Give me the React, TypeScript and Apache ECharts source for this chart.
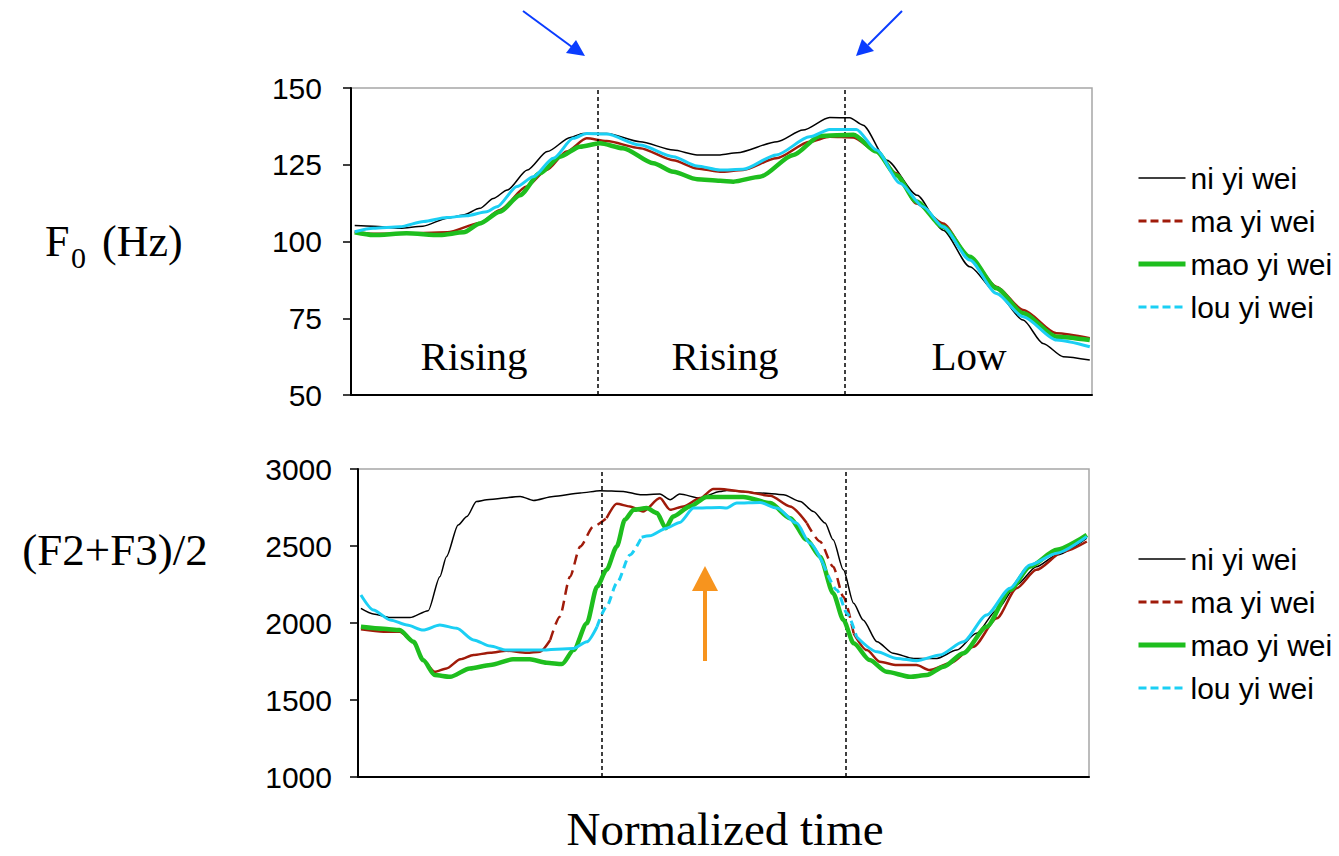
import { useEffect, useRef } from 'react';
import * as echarts from 'echarts';

// ---------- data (x = normalized time, 0..100) ----------
const seriesNames = ['ni yi wei', 'ma yi wei', 'mao yi wei', 'lou yi wei'];
const segmentBounds = [33.33, 66.67];
const segmentLabels = ['Rising', 'Rising', 'Low'];

const f0Axis = { min: 50, max: 150, interval: 25 };
const fAxis = { min: 1000, max: 3000, interval: 500 };

const niF0 = [
  [0.5, 105.2], [3.0, 105], [6.6, 104.3], [9.7, 105], [13.0, 107.6], [15.1, 108.6], [17.4, 110.8],
  [19.2, 114], [21.1, 116.8], [23.8, 123.3], [26.5, 129.3], [29.6, 133.9], [31.3, 135.2], [34.5, 135.2],
  [39.0, 132.5], [43.5, 129.8], [46.7, 128.2], [49.8, 128.2], [52.1, 128.9], [57.5, 132.5], [61.0, 136.3],
  [64.6, 140.4], [67.3, 140.3], [69.1, 137.9], [72.3, 126.5], [76.4, 115.1], [79.9, 103.7], [83.5, 91.8],
  [87.2, 83.1], [90.7, 74.4], [93.4, 66.8], [96.1, 62.5], [99.7, 61.4],
];
const maF0 = [
  [0.5, 103.2], [3.0, 102.5], [6.6, 102.5], [13.0, 103], [17.4, 106], [20.1, 110.3], [23.7, 117.9],
  [26.4, 123.3], [29.1, 129.3], [31.8, 133.6], [34.5, 132.7], [39.0, 130.4], [43.5, 126.5], [46.7, 123.8],
  [49.8, 122.7], [52.9, 123.3], [57.4, 127.1], [61.9, 132.5], [64.6, 134.1], [67.8, 133.9], [70.9, 129.3],
  [73.6, 122.2], [76.3, 112.4], [79.9, 105.9], [83.5, 95], [87.1, 85.3], [90.7, 77.7], [95.2, 70.1], [99.7, 68.5],
];
const maoF0 = [
  [0.5, 103], [3.0, 102.1], [7.5, 102.7], [12.0, 102.1], [15.2, 103], [17.4, 105.9], [20.1, 109.7],
  [22.8, 115.1], [25.5, 122.2], [28.2, 127.6], [30.9, 130.9], [33.6, 132], [36.7, 130.4], [40.8, 125.5],
  [43.5, 122.7], [46.7, 120.3], [49.8, 119.8], [51.6, 119.5], [55.2, 121.1], [59.7, 128.2], [63.3, 134.4],
  [67.8, 134.8], [70.9, 129.3], [73.6, 121.6], [76.3, 113], [79.9, 104.8], [83.5, 95], [87.1, 84.8],
  [90.7, 76.6], [95.2, 69], [99.7, 67.9],
];
const louF0 = [
  [0.5, 103.2], [3.0, 104.3], [6.6, 104.8], [9.8, 106.5], [12.9, 107.8], [15.6, 108.4], [18.3, 109.7],
  [19.7, 111.3], [22.4, 117.9], [24.6, 121.1], [27.3, 127.1], [30.0, 133.6], [31.8, 135.2], [34.5, 135],
  [39.0, 131.4], [43.5, 127.6], [46.7, 124.6], [49.8, 123.3], [52.9, 123.5], [57.4, 128.2], [61.9, 134.1],
  [64.6, 136.5], [68.2, 136.5], [70.9, 129.8], [74.1, 119], [77.2, 111.3], [79.9, 104.8], [83.5, 94],
  [87.1, 83.1], [90.7, 75.5], [95.2, 67.9], [99.7, 65.7],
];

const niF23 = [
  [0.4, 2095], [2.1, 2059], [4.4, 2035], [7.1, 2035], [9.6, 2080], [11.2, 2301], [12.1, 2431], [13.7, 2637],
  [14.9, 2692], [16.2, 2789], [17.6, 2800], [22.2, 2822], [24.0, 2796], [26.7, 2822], [30.4, 2844],
  [33.1, 2859], [36.3, 2854], [38.6, 2833], [41.3, 2837], [42.7, 2800], [44.0, 2837], [46.8, 2811],
  [49.5, 2854], [50.4, 2861], [55.0, 2844], [58.2, 2833], [60.5, 2789], [62.3, 2724], [63.9, 2649],
  [65.0, 2540], [66.4, 2345], [67.8, 2128], [69.1, 2020], [71.0, 1878], [73.2, 1803], [76.0, 1770],
  [79.2, 1770], [81.9, 1824], [84.6, 1933], [87.4, 2085], [90.1, 2247], [92.8, 2366], [95.6, 2442], [99.7, 2551],
];
const maF23 = [
  [0.4, 1959], [3.5, 1943], [5.7, 1943], [7.6, 1878], [8.9, 1759], [10.5, 1683], [12.1, 1705], [14.0, 1764],
  [15.8, 1792], [18.1, 1807], [20.3, 1820], [23.1, 1807], [24.9, 1814], [26.3, 1890], [27.6, 2041],
  [29.0, 2301], [30.4, 2497], [32.2, 2627], [34.0, 2681], [35.4, 2774], [37.2, 2757], [39.0, 2724],
  [41.3, 2811], [42.7, 2735], [44.5, 2757], [46.8, 2811], [48.6, 2870], [49.5, 2870], [52.7, 2854],
  [56.4, 2826], [59.1, 2757], [61.4, 2649], [63.2, 2529], [65.0, 2366], [66.4, 2171], [67.8, 1933],
  [69.6, 1824], [71.4, 1748], [73.7, 1727], [76.4, 1727], [78.2, 1694], [81.0, 1738], [84.2, 1846],
  [87.4, 2031], [90.1, 2226], [92.8, 2345], [96.5, 2464], [99.7, 2529],
];
const maoF23 = [
  [0.4, 1976], [3.5, 1963], [5.7, 1954], [7.6, 1878], [8.9, 1759], [10.5, 1662], [12.6, 1651], [15.3, 1705],
  [18.1, 1727], [21.2, 1764], [23.5, 1764], [25.8, 1742], [27.9, 1733], [29.5, 1824], [31.3, 1998],
  [32.7, 2236], [34.0, 2345], [35.4, 2497], [36.5, 2670], [37.7, 2735], [39.5, 2746], [40.9, 2714],
  [42.1, 2616], [43.1, 2692], [45.4, 2757], [47.7, 2818], [52.7, 2818], [56.4, 2779], [59.1, 2681],
  [61.4, 2540], [63.2, 2431], [65.0, 2193], [66.4, 2020], [67.8, 1868], [70.0, 1759], [72.3, 1683],
  [75.5, 1651], [77.8, 1662], [80.1, 1716], [82.8, 1803], [86.0, 1976], [89.2, 2215], [91.9, 2366],
  [95.6, 2475], [99.7, 2573],
];
const louF23 = [
  [0.4, 2182], [2.1, 2085], [4.4, 2020], [6.7, 1987], [8.9, 1954], [11.2, 1987], [13.5, 1966], [15.8, 1890],
  [18.1, 1850], [20.3, 1824], [24.9, 1824], [29.5, 1835], [31.3, 1878], [32.7, 1976], [34.0, 2106],
  [35.4, 2258], [37.2, 2442], [38.8, 2557], [39.9, 2566], [42.2, 2616], [44.0, 2653], [45.9, 2746],
  [49.5, 2750], [50.4, 2746], [51.8, 2779], [55.0, 2783], [57.3, 2746], [60.0, 2649], [61.8, 2519],
  [63.6, 2388], [65.5, 2215], [66.9, 2063], [68.2, 1911], [71.0, 1813], [73.7, 1770], [76.4, 1755],
  [79.6, 1792], [82.8, 1878], [86.0, 2052], [89.2, 2226], [91.9, 2377], [95.6, 2453], [99.7, 2562],
];
// x-ranges where the formant curves are drawn dashed
const maDashedRanges = [[26, 32.5], [61, 67.5]];
const louDashedRanges = [[32.5, 38.5], [63, 68]];

// ---------- styles ----------
const colors = ['#000000', '#A01B0A', '#1EBE1E', '#1BCFF4'];
const widths = [1.5, 2.5, 4.5, 3];
const legendWidths = [1.5, 3, 5, 3];
const legendDash = [false, true, false, true];
const SANS = 'Liberation Sans, Arial, sans-serif';
const SERIF = 'Liberation Serif, Times New Roman, serif';

function splitByRanges(data: number[][], ranges: number[][]) {
  const segs: { dashed: boolean; data: number[][] }[] = [];
  let cur: number[][] = [];
  let curDashed: boolean | null = null;
  data.forEach((p) => {
    const d = ranges.some(([a, b]) => p[0] >= a && p[0] < b);
    if (curDashed === null) {
      curDashed = d;
      cur.push(p);
      return;
    }
    if (d !== curDashed) {
      cur.push(p);
      segs.push({ dashed: curDashed, data: cur });
      cur = [p];
      curDashed = d;
    } else cur.push(p);
  });
  segs.push({ dashed: !!curDashed, data: cur });
  return segs;
}

function lineSeries(i: number, grid: number, data: number[][], dashed: boolean, dash: number[]) {
  return {
    type: 'line',
    name: seriesNames[i],
    xAxisIndex: grid,
    yAxisIndex: grid,
    data,
    symbol: 'none',
    showSymbol: false,
    smooth: 0.25,
    smoothMonotone: 'x',
    lineStyle: { color: colors[i], width: widths[i], type: dashed ? dash : 'solid' },
    itemStyle: { color: colors[i] },
    z: 3 + i,
  };
}

function buildOption() {
  const divider = (grid: number) => ({
    type: 'line',
    name: 'divider' + grid,
    xAxisIndex: grid,
    yAxisIndex: grid,
    data: [],
    markLine: {
      silent: true,
      symbol: ['none', 'none'],
      label: { show: false },
      lineStyle: { color: '#000', width: 1.5, type: [4, 3] },
      data: segmentBounds.map((b) => ({ xAxis: b })),
    },
    z: 2,
  });

  const series: any[] = [divider(0), divider(1)];
  [niF0, maF0, maoF0, louF0].forEach((d, i) => series.push(lineSeries(i, 0, d, false, [])));
  series.push(lineSeries(0, 1, niF23, false, []));
  splitByRanges(maF23, maDashedRanges).forEach((s) => series.push(lineSeries(1, 1, s.data, s.dashed, [10, 6])));
  series.push(lineSeries(2, 1, maoF23, false, []));
  splitByRanges(louF23, louDashedRanges).forEach((s) => series.push(lineSeries(3, 1, s.data, s.dashed, [8, 5])));

  const legendData = seriesNames.map((n, i) => ({
    name: n,
    itemStyle: { color: 'rgba(0,0,0,0)', borderColor: 'rgba(0,0,0,0)', borderWidth: 0 },
    lineStyle: { color: colors[i], width: legendWidths[i], type: legendDash[i] ? [8, 4] : 'solid' },
  }));
  const legend = (top: number) => ({
    orient: 'vertical',
    left: 1136,
    top,
    padding: 0,
    itemWidth: 47,
    itemHeight: 14,
    itemGap: 13,
    selectedMode: false,
    data: legendData,
    textStyle: { fontFamily: SANS, fontSize: 30, color: '#000', lineHeight: 30 },
  });

  const yAxisBase = (grid: number, ax: { min: number; max: number; interval: number }, margin: number) => ({
    type: 'value',
    gridIndex: grid,
    min: ax.min,
    max: ax.max,
    interval: ax.interval,
    axisLine: { show: true, lineStyle: { color: '#000', width: 2 } },
    axisTick: { show: true, length: 8, lineStyle: { color: '#000', width: 1.5 } },
    axisLabel: {
      margin,
      fontSize: 30,
      fontFamily: SANS,
      color: '#000',
      formatter: (v: number) => String(v),
    },
    splitLine: { show: false },
  });

  const text = (str: string, x: number, y: number, size: number, align = 'center') => ({
    type: 'text',
    x,
    y,
    style: {
      text: str,
      font: `${size}px ${SERIF}`,
      fill: '#000',
      textAlign: align,
      textVerticalAlign: 'middle',
    },
  });

  const segCenters = [474, 725, 969];
  const graphic: any[] = [
    ...segmentLabels.map((l, i) => text(l, segCenters[i], 356, 41)),
    text('F', 45, 241, 44, 'left'),
    text('0', 71, 257, 30, 'left'),
    text('(Hz)', 102, 241, 44, 'left'),
    text('(F2+F3)/2', 115, 550, 45),
    text('Normalized time', 725, 829, 47),
    // blue arrows
    { type: 'line', shape: { x1: 523, y1: 11, x2: 572, y2: 47 }, style: { stroke: '#0a3cff', lineWidth: 2 } },
    { type: 'polygon', shape: { points: [[585, 56], [566, 53], [576, 40]] }, style: { fill: '#0a3cff' } },
    { type: 'line', shape: { x1: 902, y1: 11, x2: 868, y2: 45 }, style: { stroke: '#0a3cff', lineWidth: 2 } },
    { type: 'polygon', shape: { points: [[856, 56], [874, 51], [862, 39]] }, style: { fill: '#0a3cff' } },
    // orange arrow
    { type: 'line', shape: { x1: 705, y1: 661, x2: 705, y2: 586 }, style: { stroke: '#F7941E', lineWidth: 4 } },
    { type: 'polygon', shape: { points: [[705, 566], [692, 591], [718, 591]] }, style: { fill: '#F7941E' } },
  ];

  return {
    animation: false,
    backgroundColor: '#ffffff',
    grid: [
      { left: 351, top: 88, width: 741, height: 307, show: true, borderColor: '#a6a6a6', borderWidth: 1.5 },
      { left: 358, top: 469, width: 731, height: 308, show: true, borderColor: '#a6a6a6', borderWidth: 1.5 },
    ],
    xAxis: [0, 1].map((g) => ({
      type: 'value',
      gridIndex: g,
      min: 0,
      max: 100,
      axisLine: { show: true, onZero: false, lineStyle: { color: '#000', width: 2 } },
      axisTick: { show: false },
      axisLabel: { show: false },
      splitLine: { show: false },
    })),
    yAxis: [yAxisBase(0, f0Axis, 29), yAxisBase(1, fAxis, 26)],
    legend: [legend(163), legend(544)],
    series,
    graphic,
  };
}

export default function App() {
  const ref = useRef<HTMLDivElement>(null);
  useEffect(() => {
    const chart = echarts.init(ref.current!, null, { renderer: 'svg' });
    chart.setOption(buildOption() as any);
    return () => chart.dispose();
  }, []);
  return (
    <div
      ref={ref}
      style={{ position: 'absolute', left: 0, top: 0, width: 1339, height: 856, background: '#fff' }}
    />
  );
}
